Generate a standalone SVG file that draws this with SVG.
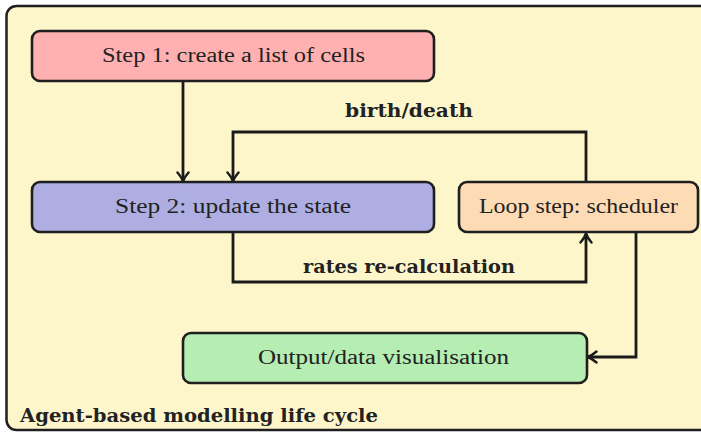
<svg xmlns="http://www.w3.org/2000/svg" width="701" height="432" viewBox="0 0 701 432">
<defs>
<style>
.box{stroke:#1f1f1f;stroke-width:2.6}
.t{font-family:"Liberation Serif","DejaVu Serif",serif;font-size:20px;fill:#222;text-anchor:middle}
.b{font-family:"DejaVu Serif","Liberation Serif",serif;font-weight:bold;font-size:18px;fill:#222}
.c{fill:none;stroke:#1a1a1a;stroke-width:2.8}
</style>
<marker id="ah" viewBox="0 0 14 14" refX="11" refY="7" markerWidth="14" markerHeight="14" markerUnits="userSpaceOnUse" orient="auto">
<path d="M2.5,1.5 Q7,5.5 11.5,7 Q7,8.5 2.5,12.5" fill="none" stroke="#1a1a1a" stroke-width="2.4" stroke-linecap="round"/>
</marker>
</defs>
<g id="frame">
<rect x="6.5" y="6" width="710" height="424" rx="10" fill="#fef6cb" stroke="#1f1f1f" stroke-width="2.5"/>
<text class="b" x="20" y="422" textLength="358" lengthAdjust="spacingAndGlyphs">Agent-based modelling life cycle</text>
</g>
<g id="connectors">
<path class="c" d="M183,82 V181" marker-end="url(#ah)"/>
<path class="c" d="M586,182 V132 H233 V181" marker-end="url(#ah)"/>
<path class="c" d="M233,233 V282 H586 V234" marker-end="url(#ah)"/>
<path class="c" d="M636,233 V357 H588" marker-end="url(#ah)"/>
<text class="b" x="345" y="117" textLength="128" lengthAdjust="spacingAndGlyphs">birth/death</text>
<text class="b" x="303" y="273" textLength="212" lengthAdjust="spacingAndGlyphs">rates re-calculation</text>
</g>
<g id="step1">
<rect class="box" x="32" y="31" width="402" height="50" rx="8" fill="#ffb1b1"/>
<text class="t" x="233.5" y="62" textLength="263" lengthAdjust="spacingAndGlyphs">Step 1: create a list of cells</text>
</g>
<g id="step2">
<rect class="box" x="32" y="182" width="402" height="50" rx="8" fill="#aeaee2"/>
<text class="t" x="233" y="213" textLength="236" lengthAdjust="spacingAndGlyphs">Step 2: update the state</text>
</g>
<g id="loop">
<rect class="box" x="459" y="182" width="239" height="50" rx="8" fill="#fddbb4"/>
<text class="t" x="578.5" y="213" textLength="199" lengthAdjust="spacingAndGlyphs">Loop step: scheduler</text>
</g>
<g id="output">
<rect class="box" x="183" y="333" width="404" height="50" rx="8" fill="#b5edb2"/>
<text class="t" x="383.5" y="364" textLength="251" lengthAdjust="spacingAndGlyphs">Output/data visualisation</text>
</g>
</svg>
